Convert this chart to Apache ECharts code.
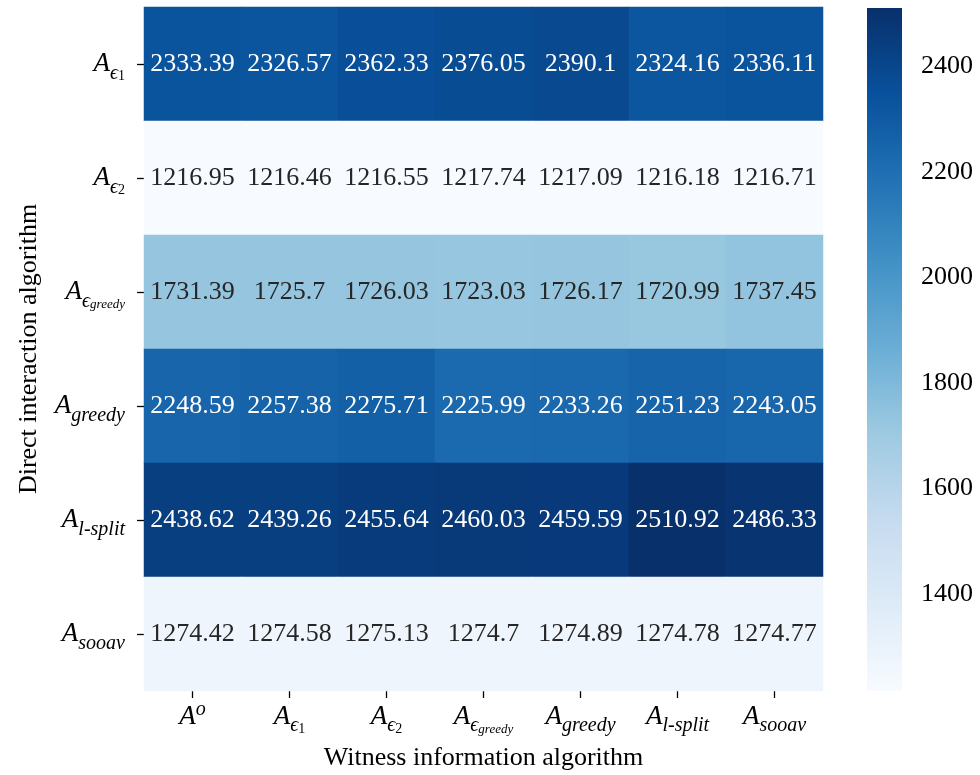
<!DOCTYPE html>
<html>
<head>
<meta charset="utf-8">
<style>
  html, body { margin: 0; padding: 0; background: #ffffff; }
  #chart { width: 980px; height: 775px; }
</style>
<script src="https://cdn.jsdelivr.net/npm/echarts@6/dist/echarts.min.js"></script>
</head>
<body>
<div id="chart"></div>
<script>
// Algorithm names: "_" starts a subscript level, "^" a superscript.
const witnessAlgorithms = ['A^o', 'A_ϵ_1', 'A_ϵ_2', 'A_ϵ_greedy', 'A_greedy', 'A_l-split', 'A_sooav'];
const directAlgorithms = ['A_ϵ_1', 'A_ϵ_2', 'A_ϵ_greedy', 'A_greedy', 'A_l-split', 'A_sooav'];

// One row of values per direct interaction algorithm, one column per witness algorithm.
const rowEps1    = [2333.39, 2326.57, 2362.33, 2376.05, 2390.1, 2324.16, 2336.11];
const rowEps2    = [1216.95, 1216.46, 1216.55, 1217.74, 1217.09, 1216.18, 1216.71];
const rowEpsGr   = [1731.39, 1725.7, 1726.03, 1723.03, 1726.17, 1720.99, 1737.45];
const rowGreedy  = [2248.59, 2257.38, 2275.71, 2225.99, 2233.26, 2251.23, 2243.05];
const rowLSplit  = [2438.62, 2439.26, 2455.64, 2460.03, 2459.59, 2510.92, 2486.33];
const rowSooav   = [1274.42, 1274.58, 1275.13, 1274.7, 1274.89, 1274.78, 1274.77];
const rows = [rowEps1, rowEps2, rowEpsGr, rowGreedy, rowLSplit, rowSooav];

const colorbarTicks = [1400, 1600, 1800, 2000, 2200, 2400];

// matplotlib "Blues" colormap
const blues = ['#f7fbff', '#deebf7', '#c6dbef', '#9ecae1', '#6baed6', '#4292c6', '#2171b5', '#08519c', '#08306b'];

const cells = [];
rows.forEach((r, yi) => r.forEach((v, xi) => cells.push([xi, yi, v])));
const all = rows.flat();
const vMin = Math.min.apply(null, all);
const vMax = Math.max.apply(null, all);

const SERIF = '"Liberation Serif", "DejaVu Serif", serif';

// Turn "A_ϵ_greedy" style names into rich-text markup.
function mathLabel(name) {
  if (name.indexOf('^') >= 0) {
    const p = name.split('^');
    return '{A|' + p[0] + '}{sup|' + p[1] + '}';
  }
  const p = name.split('_');
  let s = '{A|' + p[0] + '}';
  if (p.length === 2) {
    s += '{sub|' + p[1] + '}';
  } else if (p.length === 3) {
    s += '{sub|' + p[1] + '}';
    s += (/^\d+$/.test(p[2]) ? '{subNum|' : '{subWord|') + p[2] + '}';
  }
  return s;
}

// The tall line box of the main letter leaves room to drop bottom-aligned subscripts.
const mathRich = {
  A:       { fontFamily: SERIF, fontStyle: 'italic', fontSize: 27, lineHeight: 39, color: '#000', verticalAlign: 'middle' },
  sup:     { fontFamily: SERIF, fontStyle: 'italic', fontSize: 20, color: '#000', verticalAlign: 'top', padding: [3, 0, 0, 0] },
  sub:     { fontFamily: SERIF, fontStyle: 'italic', fontSize: 20, color: '#000', verticalAlign: 'bottom' },
  subNum:  { fontFamily: SERIF, fontSize: 14, color: '#000', verticalAlign: 'bottom' },
  subWord: { fontFamily: SERIF, fontStyle: 'italic', fontSize: 13, color: '#000', verticalAlign: 'bottom' }
};

const gradientStops = blues.map((c, i) => ({ offset: i / (blues.length - 1), color: c }));

const chart = echarts.init(document.getElementById('chart'), null, { renderer: 'canvas' });

chart.setOption({
  backgroundColor: '#ffffff',
  animation: false,
  grid: [
    { left: 144, top: 7, width: 679, height: 684, outerBoundsMode: 'none', containLabel: false },
    { left: 867, top: 8, width: 35, height: 683, outerBoundsMode: 'none', containLabel: false }
  ],
  xAxis: [
    {
      type: 'category', gridIndex: 0, data: witnessAlgorithms,
      position: 'bottom',
      axisLine: { show: false },
      axisTick: { show: true, alignWithLabel: true, length: 7, lineStyle: { color: '#000', width: 1.3 } },
      axisLabel: { interval: 0, margin: 6, formatter: mathLabel, rich: mathRich },
      splitLine: { show: false },
      name: 'Witness information algorithm',
      nameLocation: 'middle', nameGap: 54,
      nameTextStyle: { fontFamily: SERIF, fontSize: 26, color: '#000' }
    },
    { type: 'value', gridIndex: 1, min: 0, max: 1, show: false }
  ],
  yAxis: [
    {
      type: 'category', gridIndex: 0, data: directAlgorithms, inverse: true,
      axisLine: { show: false },
      axisTick: { show: true, alignWithLabel: true, length: 7, lineStyle: { color: '#000', width: 1.3 } },
      axisLabel: { interval: 0, margin: 19, formatter: mathLabel, rich: mathRich },
      splitLine: { show: false },
      name: 'Direct interaction algorithm',
      nameLocation: 'middle', nameGap: 102, nameRotate: 90,
      nameTextStyle: { fontFamily: SERIF, fontSize: 26, color: '#000' }
    },
    {
      type: 'value', gridIndex: 1, min: vMin, max: vMax, position: 'right',
      axisLine: { show: false },
      axisTick: { show: true, length: 6, customValues: colorbarTicks, lineStyle: { color: '#000', width: 1.3 } },
      axisLabel: {
        margin: 19, customValues: colorbarTicks,
        formatter: function (v) { return String(v); },
        fontFamily: SERIF, fontSize: 26, color: '#000'
      },
      splitLine: { show: false }
    }
  ],
  visualMap: {
    type: 'continuous', show: false, seriesIndex: 0,
    min: vMin, max: vMax,
    inRange: { color: blues }
  },
  series: [
    {
      type: 'heatmap', xAxisIndex: 0, yAxisIndex: 0,
      data: cells,
      itemStyle: { borderWidth: 0 },
      label: {
        show: true,
        formatter: function (p) {
          const v = p.value[2];
          const t = (v - vMin) / (vMax - vMin);
          return (t > 0.55 ? '{w|' : '{d|') + String(v) + '}';
        },
        rich: {
          w: { color: '#ffffff', fontFamily: SERIF, fontSize: 26 },
          d: { color: '#262626', fontFamily: SERIF, fontSize: 26 }
        }
      },
      emphasis: { disabled: true }
    },
    {
      // colour bar drawn along the value axis of the second grid
      type: 'custom', xAxisIndex: 1, yAxisIndex: 1,
      data: [[0, vMin, vMax]],
      silent: true,
      renderItem: function (params, api) {
        const topPt = api.coord([0, api.value(2)]);
        const botPt = api.coord([0, api.value(1)]);
        const cs = params.coordSys;
        return {
          type: 'rect',
          shape: { x: cs.x, y: topPt[1], width: cs.width, height: botPt[1] - topPt[1] },
          style: { fill: new echarts.graphic.LinearGradient(0, 1, 0, 0, gradientStops) }
        };
      }
    }
  ]
});
</script>
</body>
</html>
